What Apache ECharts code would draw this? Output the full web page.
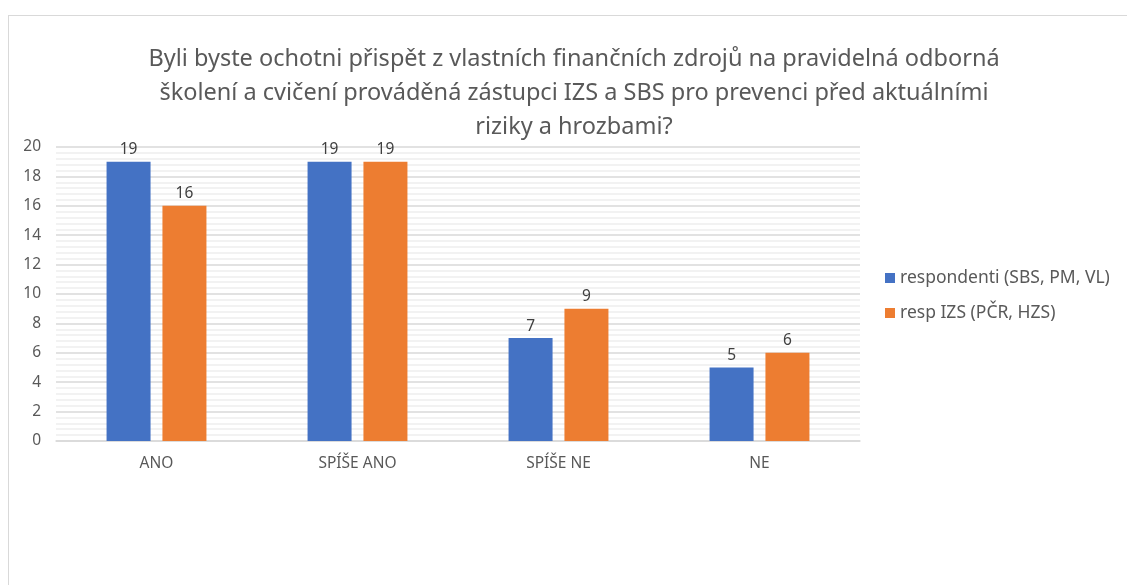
<!DOCTYPE html>
<html>
<head>
<meta charset="utf-8">
<script src="https://cdn.jsdelivr.net/npm/echarts@6/dist/echarts.min.js"></script>
<style>
  html, body { margin: 0; padding: 0; background: #fff; }
  #frame { position: absolute; left: 8px; top: 15px; width: 1130px; height: 580px; border: 1.5px solid #d9d9d9; box-sizing: border-box; }
  #chart { position: absolute; left: 0; top: 0; width: 1127px; height: 585px; }
</style>
</head>
<body>
<div id="frame"></div>
<div id="chart"></div>
<script>
var categories = ['ANO', 'SPÍŠE ANO', 'SPÍŠE NE', 'NE'];
var seriesNames = ['respondenti (SBS, PM, VL)', 'resp IZS (PČR, HZS)'];
var respondenti = [19, 19, 7, 5];
var respIzs = [16, 19, 9, 6];
var titleText = 'Byli byste ochotni přispět z vlastních finančních zdrojů na pravidelná odborná\nškolení a cvičení prováděná zástupci IZS a SBS pro prevenci před aktuálními\nriziky a hrozbami?';

var myChart = echarts.init(document.getElementById('chart'));
var font = '"Noto Sans", "Open Sans", sans-serif';
var option = {
  animation: false,
  textStyle: { fontFamily: font },
  title: {
    text: titleText,
    left: 569,
    top: 37,
    textAlign: 'center',
    textStyle: { fontSize: 23.5, fontWeight: 'normal', color: '#595959', lineHeight: 34, fontFamily: font }
  },
  color: ['#4472c4', '#ed7d31'],
  legend: {
    orient: 'vertical',
    left: 880,
    top: 261,
    itemWidth: 10,
    itemHeight: 10,
    itemGap: 11,
    icon: 'rect',
    textStyle: { fontSize: 17.5, color: '#595959', lineHeight: 24, fontFamily: font },
    data: seriesNames
  },
  grid: { left: 56, right: 267, top: 147, bottom: 144 },
  xAxis: {
    type: 'category',
    data: categories,
    axisLine: { lineStyle: { color: '#d9d9d9', width: 1.5 } },
    axisTick: { show: false },
    axisLabel: { color: '#595959', fontSize: 15.5, margin: 15, fontFamily: font }
  },
  yAxis: {
    type: 'value',
    min: 0,
    max: 20,
    interval: 2,
    axisLine: { show: false },
    axisTick: { show: false },
    axisLabel: { color: '#595959', fontSize: 15.5, margin: 15, fontFamily: font },
    splitLine: { lineStyle: { color: '#d9d9d9', width: 1.5 } },
    minorTick: { show: false, splitNumber: 5 },
    minorSplitLine: { show: true, lineStyle: { color: '#eeeeee', width: 1.5 } }
  },
  series: [
    {
      name: seriesNames[0],
      type: 'bar',
      data: respondenti,
      barWidth: 44,
      barGap: '27%',
      label: { show: true, position: 'top', distance: 4, color: '#404040', fontSize: 15.5, fontFamily: font }
    },
    {
      name: seriesNames[1],
      type: 'bar',
      data: respIzs,
      barWidth: 44,
      barGap: '27%',
      label: { show: true, position: 'top', distance: 4, color: '#404040', fontSize: 15.5, fontFamily: font }
    }
  ]
};
myChart.setOption(option);
</script>
</body>
</html>
